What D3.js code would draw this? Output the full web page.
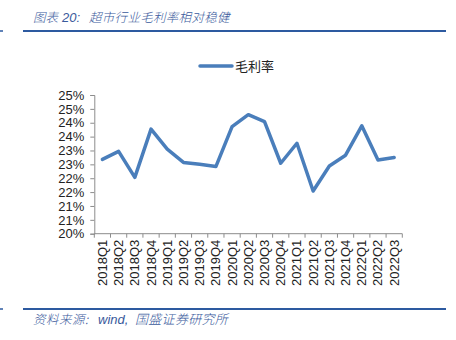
<!DOCTYPE html>
<html>
<head>
<meta charset="utf-8">
<script src="https://cdn.jsdelivr.net/npm/d3@7"></script>
<style>
  html, body { margin: 0; padding: 0; background: #fff; }
  svg { display: block; }
</style>
</head>
<body>
<svg id="chart" width="456" height="340"></svg>
<script>
// Quarterly gross margin of the supermarket industry (%)
const quarters = ["2018Q1","2018Q2","2018Q3","2018Q4","2019Q1","2019Q2","2019Q3","2019Q4",
  "2020Q1","2020Q2","2020Q3","2020Q4","2021Q1","2021Q2","2021Q3","2021Q4","2022Q1","2022Q2","2022Q3"];
const grossMargin = [22.68, 22.97, 22.03, 23.77, 23.05, 22.57, 22.50, 22.42,
  23.86, 24.29, 24.04, 22.54, 23.26, 21.54, 22.44, 22.83, 23.89, 22.66, 22.75];
const yTicks = [20, 20.5, 21, 21.5, 22, 22.5, 23, 23.5, 24, 24.5, 25];
const seriesName = "毛利率";
// header / footer text pieces: [text, x, latin?, size, letter-spacing]
const titleParts = [["图表", 33, false, 12.5, 0], ["20:", 62, true, 13, 0], ["超市行业毛利率相对稳健", 89, false, 12.5, 0.3]];
const sourceParts = [["资料来源:", 33, false, 12.5, 0.5], ["wind,", 98, true, 13, 0], ["国盛证券研究所", 135, false, 13, 0.3]];

const svg = d3.select("#chart");
const lineBlue = "#4a7ebb";
const headBlue = "#2d5aa0";
const textBlue = "#3a5a9c";
const axisGrey = "#8c8c8c";
const latin = "'Liberation Sans', Arial, sans-serif";
const cjk = "'Noto Sans CJK SC', sans-serif";

// header and footer rules
svg.append("line").attr("x1", 23).attr("x2", 446).attr("y1", 31).attr("y2", 31)
  .attr("stroke", headBlue).attr("stroke-width", 2);
svg.append("line").attr("x1", 0).attr("x2", 3).attr("y1", 31).attr("y2", 31)
  .attr("stroke", headBlue).attr("stroke-width", 1.5);
svg.append("line").attr("x1", 23).attr("x2", 446).attr("y1", 309).attr("y2", 309)
  .attr("stroke", headBlue).attr("stroke-width", 2);
svg.append("line").attr("x1", 0).attr("x2", 3).attr("y1", 309).attr("y2", 309)
  .attr("stroke", headBlue).attr("stroke-width", 1.5);

function italicLine(parts, baseline) {
  const t = svg.append("text").attr("y", baseline).attr("font-style", "italic")
    .attr("fill", textBlue);
  parts.forEach(([s, px, isLatin, size, ls]) => {
    t.append("tspan").attr("x", px)
      .attr("font-family", isLatin ? latin : cjk)
      .attr("font-weight", isLatin ? 400 : 300)
      .attr("font-size", size).attr("letter-spacing", ls).text(s);
  });
}
italicLine(titleParts, 22);
italicLine(sourceParts, 324);

// scales
const x = d3.scaleBand().domain(quarters).range([94.3, 402.3]);
const y = d3.scaleLinear().domain([20, 25]).range([233.7, 95]);

// y axis
const yAxis = svg.append("g").attr("transform", "translate(94.3,0)")
  .call(d3.axisLeft(y).tickValues(yTicks).tickSize(4).tickPadding(6)
    .tickFormat(d => d3.format(".0f")(Math.round(d)) + "%"));
yAxis.select(".domain").attr("stroke", axisGrey);
yAxis.selectAll(".tick line").attr("stroke", axisGrey);
yAxis.selectAll("text").attr("font-family", latin).attr("font-size", 13).attr("fill", "#222");

// x axis with ticks on category boundaries
const xAxis = svg.append("g").attr("transform", "translate(0,233.7)");
xAxis.append("line").attr("x1", 94.3).attr("x2", 402.3).attr("y1", 0).attr("y2", 0)
  .attr("stroke", axisGrey);
const bounds = quarters.map(q => x(q)).concat([x(quarters[quarters.length - 1]) + x.bandwidth()]);
xAxis.selectAll("line.tk").data(bounds).join("line").attr("class", "tk")
  .attr("x1", d => d).attr("x2", d => d).attr("y1", 0).attr("y2", 4)
  .attr("stroke", axisGrey);
xAxis.selectAll("text").data(quarters).join("text")
  .attr("transform", d => `translate(${x(d) + x.bandwidth() / 2 + 4.5},6) rotate(-90)`)
  .attr("text-anchor", "end")
  .attr("font-family", latin).attr("font-size", 13).attr("fill", "#222")
  .text(d => d);

// series line
const line = d3.line()
  .x((d, i) => x(quarters[i]) + x.bandwidth() / 2)
  .y(d => y(d));
svg.append("path").datum(grossMargin).attr("d", line)
  .attr("fill", "none").attr("stroke", lineBlue).attr("stroke-width", 3.5)
  .attr("stroke-linejoin", "round").attr("stroke-linecap", "round");

// legend
const legend = svg.append("g").attr("transform", "translate(200,66)");
legend.append("line").attr("x1", 0).attr("x2", 32).attr("y1", 0).attr("y2", 0)
  .attr("stroke", lineBlue).attr("stroke-width", 3.5).attr("stroke-linecap", "round");
legend.append("text").attr("x", 35).attr("y", 5)
  .attr("font-family", cjk).attr("font-size", 13).attr("fill", "#222").text(seriesName);
</script>
</body>
</html>
